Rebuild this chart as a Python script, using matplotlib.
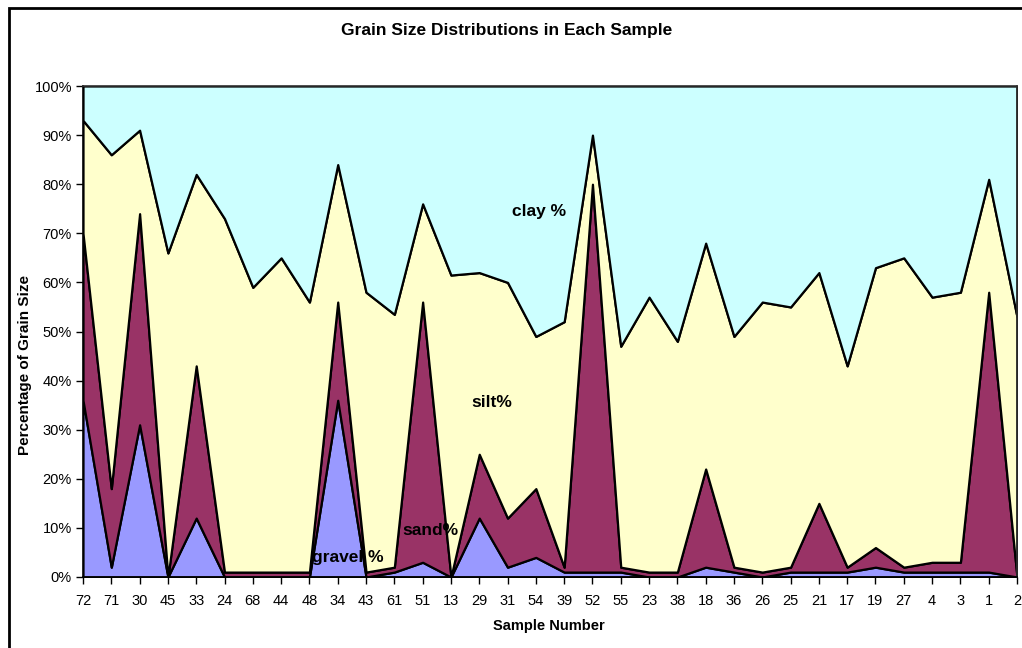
import numpy as np
import matplotlib
matplotlib.use('Agg')
import matplotlib.pyplot as plt
from matplotlib.patches import Rectangle

plt.rcParams['font.family'] = ['Liberation Sans', 'DejaVu Sans']

# sample numbers in plotting order
samples = ['72', '71', '30', '45', '33', '24', '68', '44', '48', '34', '43', '61',
           '51', '13', '29', '31', '54', '39', '52', '55', '23', '38', '18', '36',
           '26', '25', '21', '17', '19', '27', '4', '3', '1', '2']

# percentage of each grain size fraction per sample
gravel = [36, 2, 31, 0, 12, 0, 0, 0, 0, 36, 0, 1, 3, 0, 12, 2, 4, 1, 1, 1, 0, 0,
          2, 1, 0, 1, 1, 1, 2, 1, 1, 1, 1, 0]
sand = [34, 16, 43, 0, 31, 1, 1, 1, 1, 20, 1, 1, 53, 0, 13, 10, 14, 1, 79, 1, 1, 1,
        20, 1, 1, 1, 14, 1, 4, 1, 2, 2, 57, 0]
silt = [23, 68, 17, 66, 39, 72, 58, 64, 55, 28, 57, 51.5, 20, 61.5, 37, 48, 31, 50,
        10, 45, 56, 47, 46, 47, 55, 53, 47, 41, 57, 63, 54, 55, 23, 53]
clay = [7, 14, 9, 34, 18, 27, 41, 35, 44, 16, 42, 46.5, 24, 38.5, 38, 40, 51, 48,
        10, 53, 43, 52, 32, 51, 44, 45, 38, 57, 37, 35, 43, 42, 19, 47]

W, H = 1022, 648
fig = plt.figure(figsize=(W / 100, H / 100), dpi=100)
ax = fig.add_axes([83 / W, 1 - 577 / H, (1017 - 83) / W, (577 - 86) / H])

x = np.arange(len(samples))
ax.stackplot(x, gravel, sand, silt, clay,
             colors=['#9999FF', '#993366', '#FFFFCC', '#CCFFFF'],
             edgecolor='black', linewidth=1.6)

ax.set_xlim(0, len(samples) - 1)
ax.set_ylim(0, 100)
ax.set_yticks(np.arange(0, 101, 10))
ax.set_yticklabels([f'{v}%' for v in range(0, 101, 10)])
ax.set_xticks(x)
ax.set_xticklabels(samples, family=['Liberation Sans Narrow', 'Liberation Sans'])
ax.tick_params(axis='both', direction='out', length=5, width=1, labelsize=10.5,
               colors='black')
ax.tick_params(axis='y', pad=3)
ax.tick_params(axis='x', pad=7)

for side in ['left', 'bottom']:
    ax.spines[side].set_color('black')
    ax.spines[side].set_linewidth(1.2)
for side in ['top', 'right']:
    ax.spines[side].set_color('#303030')
    ax.spines[side].set_linewidth(1.2)

# series labels inside the areas
lab = dict(fontsize=12.5, fontweight='bold', ha='center', va='center')
ax.text(16.1, 74.5, 'clay %', **lab)
ax.text(14.45, 35.5, 'silt%', **lab)
ax.text(12.27, 9.4, 'sand%', **lab)
ax.text(9.37, 3.9, 'gravel %', **lab)

fig.text(507 / W, 1 - 30 / H, 'Grain Size Distributions in Each Sample',
         fontsize=12.5, fontweight='bold', ha='center', va='center')
fig.text(549 / W, 1 - 626 / H, 'Sample Number', fontsize=10.5, fontweight='bold',
         ha='center', va='center', family=['Liberation Sans Narrow', 'Liberation Sans'])
fig.text(25 / W, 1 - 365 / H, 'Percentage of Grain Size', fontsize=11,
         fontweight='bold', rotation=90, ha='center', va='center')

# chart area frame
fig.add_artist(Rectangle((9 / W, -0.1), 1.0, 1 - 8 / H + 0.1,
                         transform=fig.transFigure, fill=False,
                         edgecolor='black', linewidth=2))

fig.savefig('out.png', dpi=100)
